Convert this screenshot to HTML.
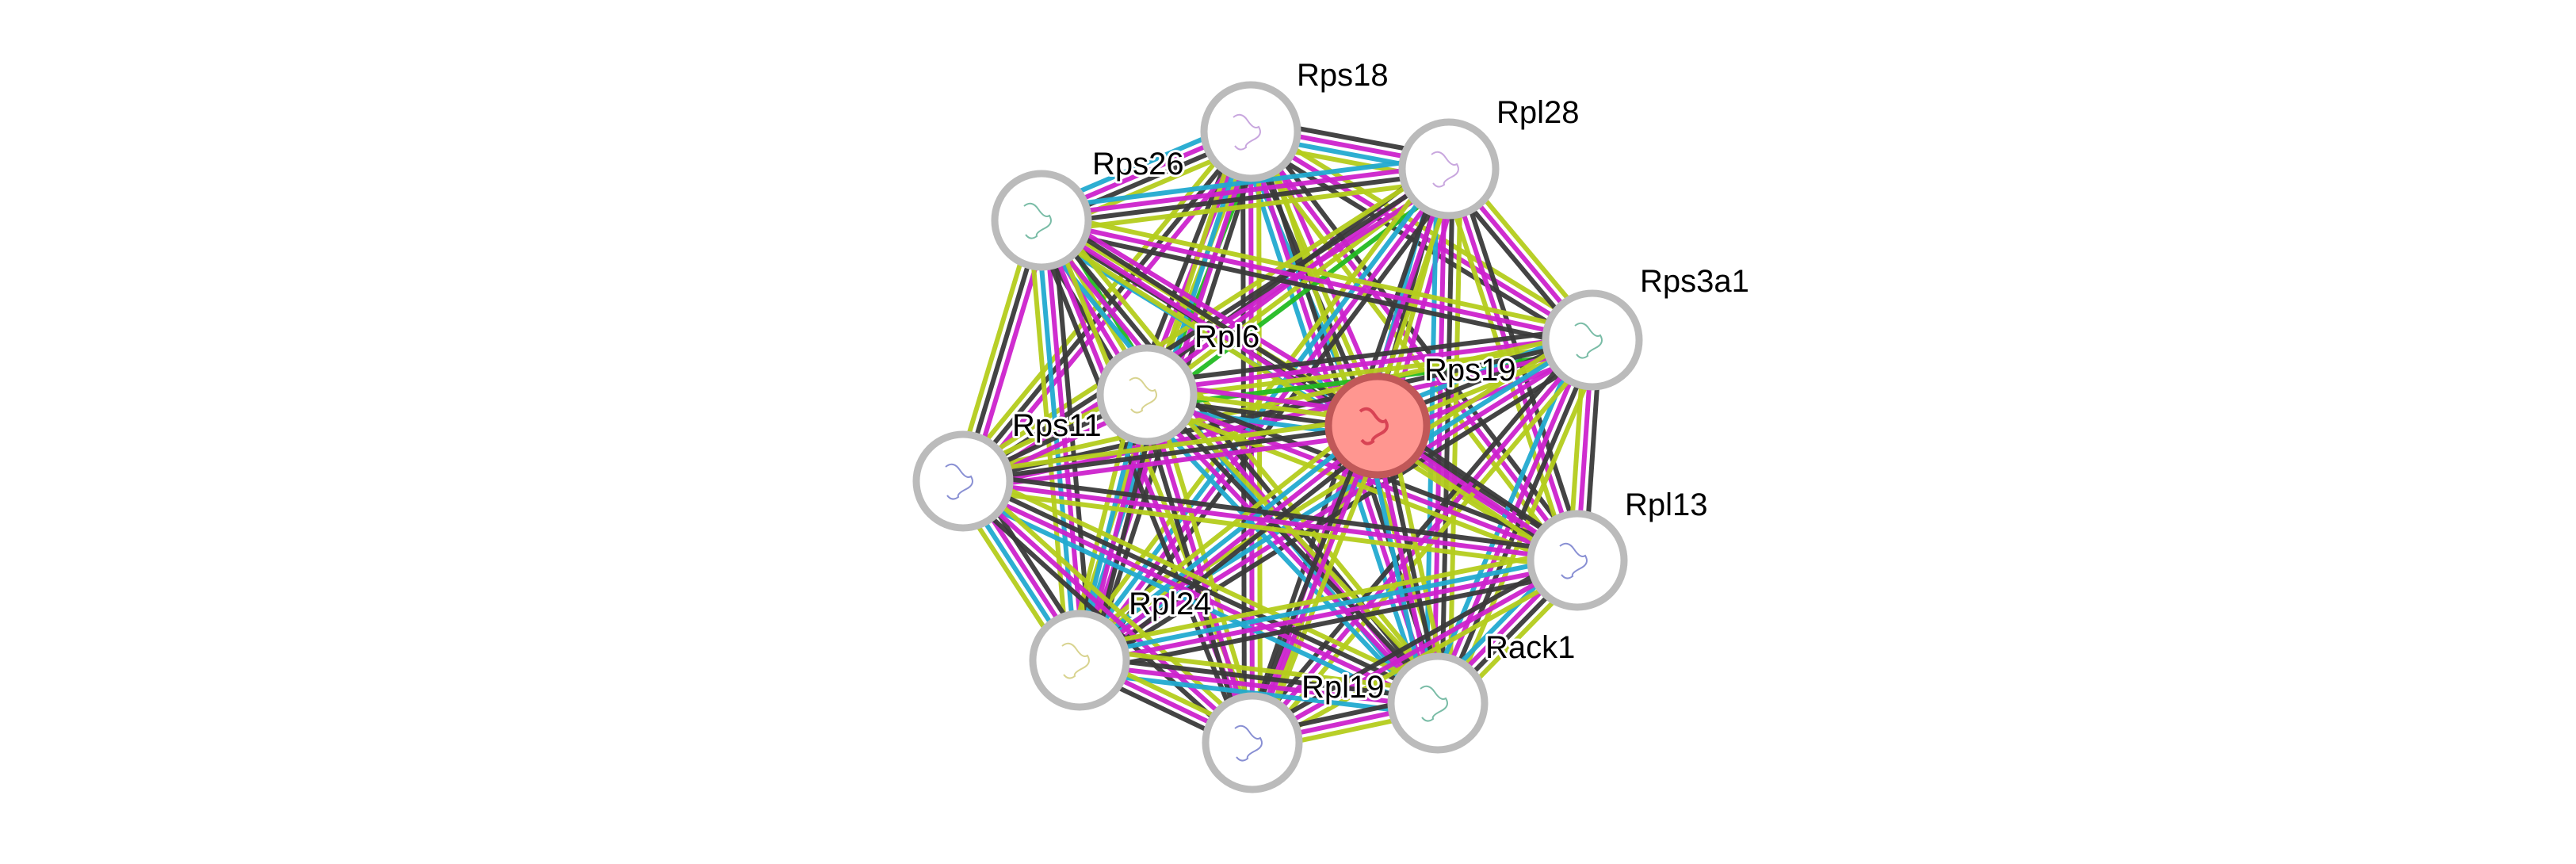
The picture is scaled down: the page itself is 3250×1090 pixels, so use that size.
<!DOCTYPE html>
<html><head><meta charset="utf-8"><style>
html,body{margin:0;padding:0;background:#fff;width:3250px;height:1090px;overflow:hidden}
svg{display:block}
text{font-family:"Liberation Sans",sans-serif;font-size:40px;fill:#000;paint-order:stroke;stroke:#fff;stroke-width:6px;stroke-linejoin:round}
</style></head><body>
<svg id="s" width="3250" height="1090" xmlns="http://www.w3.org/2000/svg"></svg>
<script>
const N=[
["Rps18",1578,166,1636,108],
["Rpl28",1828,213,1888,155],
["Rps26",1314,278,1378,220],
["Rps3a1",2009,429,2069,368],
["Rpl6",1447,498,1507,438],
["Rps19",1738,537,1797,480],
["Rps11",1215,607,1277,550],
["Rpl13",1990,707,2050,650],
["Rpl24",1362,833,1424,775],
["Rack1",1814,887,1874,830],
["Rpl19",1580,937,1642,880]];
const s=document.getElementById('s');const ns="http://www.w3.org/2000/svg";
function el(t,a,p){const e=document.createElementNS(ns,t);for(const k in a)e.setAttribute(k,a[k]);(p||s).appendChild(e);return e;}
const C={k:"#3a3a3a",m:"#cc22cc",y:"#b4cc1c",c:"#22aad0",g:"#22bb22"};
const pats=[["k","m","y"],["m","y","k","c"],["y","m","k"],["k","m","c","y"],["m","k","y"],["g","y","m","k"],["y","k","m","c"]];
for(let i=0;i<N.length;i++)for(let j=i+1;j<N.length;j++){
 const a=N[i],b=N[j];const dx=b[1]-a[1],dy=b[2]-a[2],L=Math.hypot(dx,dy);
 const px=-dy/L,py=dx/L;const p=pats[(i*7+j*3)%pats.length];
 const n=p.length;
 p.forEach((c,q)=>{const o=(q-(n-1)/2)*10;
  el('line',{x1:a[1]+px*o,y1:a[2]+py*o,x2:b[1]+px*o,y2:b[2]+py*o,stroke:C[c],'stroke-width':6,'stroke-opacity':0.95});});
}
N.forEach(n=>{
 const red=n[0]=="Rps19";
 el('circle',{cx:n[1],cy:n[2],r:red?62:59,fill:red?"#ff9690":"#fff",stroke:red?"#c05858":"#bbbbbb","stroke-width":9});
 const col=red?"#c8203a":["#5560c0","#60b060","#c8c060","#b080d0","#40a080"][n[1]%5];
 el('path',{d:`M${n[1]-22} ${n[2]-18} q10 -8 18 4 t14 8 q6 10 -6 16 t-10 10 q-8 6 -14 -2`,fill:"none",stroke:col,"stroke-width":red?4:2,"stroke-opacity":0.7});
});
N.forEach(n=>{const t=el('text',{x:n[3],y:n[4]});t.textContent=n[0];});
</script>
</body></html>
